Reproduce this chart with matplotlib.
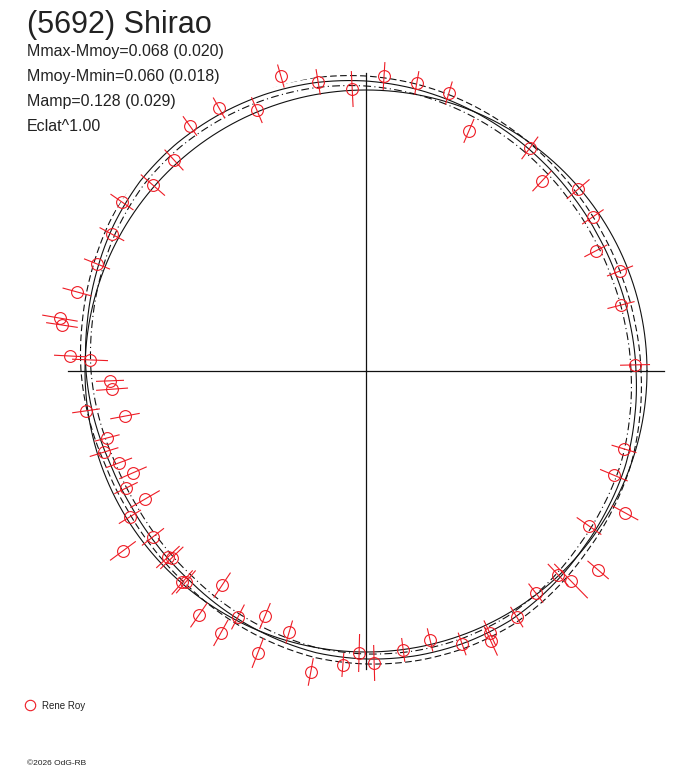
import numpy as np
import matplotlib
matplotlib.use("Agg")
import matplotlib.pyplot as plt

# observations: rotational phase (deg), plotted radius, radial error
phase_deg = [106.1, 99.4, 92.8, 86.5, 80.0, 73.4, 66.8, 112.7, 119.2, 125.7,
             132.3, 138.9, 145.3, 151.7, 158.3, 164.7, 170.2, 171.4, 177.1, 177.7,
             182.2, 184.1, 188.1, 190.6, 194.5, 197.2, 200.4, 203.6, 206.0, 210.1,
             211.7, 217.9, 216.5, 223.2, 223.9, 229.5, 229.0, 236.1, 235.6, 242.5,
             247.6, 241.0, 253.6, 249.0, 259.6, 265.5, 268.6, 271.6, 277.6, 283.4,
             289.4, 295.3, 294.8, 301.5, 307.4, 313.3, 314.3, 319.4, 325.2, 331.3,
             337.2, 343.2, 1.3, 14.5, 21.5, 27.6, 34.2, 40.6, 47.2, 53.7]
rad = [307.0, 293.0, 282.3, 295.5, 292.5, 290.1, 261.2, 282.8, 301.3, 301.7,
       285.3, 282.8, 296.8, 288.6, 289.5, 299.6, 310.6, 307.5, 296.4, 276.2,
       256.2, 254.6, 282.8, 245.2, 267.5, 274.2, 263.6, 254.3, 267.0, 255.4,
       277.5, 270.0, 302.4, 271.7, 269.5, 277.3, 280.2, 257.9, 295.7, 277.3,
       265.0, 299.4, 272.1, 302.0, 306.0, 294.9, 282.1, 292.1, 281.4, 276.5,
       289.4, 289.9, 297.5, 288.6, 279.6, 280.1, 293.5, 305.7, 271.6, 295.4,
       268.9, 269.5, 269.1, 263.4, 273.0, 259.4, 274.3, 279.4, 259.0, 276.8]
err = [12, 13, 18, 14, 12, 12, 13, 14, 12, 12,
       14, 16, 14, 14, 14, 15, 18, 16, 16, 18,
       14, 16, 14, 15, 13, 15, 14, 15, 13, 17,
       13, 14, 16, 16, 16, 15, 16, 15, 15, 14,
       14, 15, 12, 16, 14, 12, 19, 18, 12, 12,
       12, 14, 16, 12, 12, 15, 24, 14, 15, 15,
       15, 13, 15, 14, 14, 13, 13, 15, 14, 14]

# fitted curve sampled every 10 deg
fit_deg = list(range(0, 370, 10))
fit_rad = [270.0, 268.3, 267.8, 268.6, 270.7, 273.9, 277.8, 282.1, 286.3, 290.0,
           292.8, 294.5, 295.5, 296.0, 295.0, 291.5, 287.0, 283.0, 280.0, 276.0,
           272.0, 271.0, 272.0, 274.0, 278.0, 282.0, 286.1, 288.0, 289.1, 289.2,
           288.2, 284.5, 280.5, 278.0, 276.1, 272.7, 270.0]
fit_sigma = 5.0
mean_rad = 281.0
r_max = 298.0

stats = ["Mmax-Mmoy=0.068 (0.020)", "Mmoy-Mmin=0.060 (0.018)",
         "Mamp=0.128 (0.029)", "Eclat^1.00"]

W, H = 688, 768
fig = plt.figure(figsize=(W / 100, H / 100), dpi=100)
cx, cy = 366, 371
ax = fig.add_axes([(cx - r_max) / W, (H - cy - r_max) / H, 2 * r_max / W, 2 * r_max / H],
                  projection="polar")
ax.set_ylim(0, r_max)
ax.grid(False)
ax.set_xticks([])
ax.set_yticks([])
ax.spines["polar"].set_visible(False)
ax.patch.set_alpha(0)

red = "#ee1c25"
ink = "#111111"

# cross through the centre
for a in [0, 90, 180, 270]:
    ax.plot([np.deg2rad(a)] * 2, [0, r_max], color=ink, lw=0.9, clip_on=False)

tt = np.linspace(0, 2 * np.pi, 721)
ax.plot(tt, np.full_like(tt, mean_rad), color=ink, lw=0.8)

ft = np.deg2rad(fit_deg)
fr = np.array(fit_rad)
curves = []
curves += ax.plot(ft, fr, color=ink, lw=0.8)
curves += ax.plot(ft, fr + fit_sigma, color=ink, lw=0.8, ls=(0, (6, 3)))
curves += ax.plot(ft, fr - fit_sigma, color=ink, lw=0.8, ls=(0, (7, 3, 1, 3)))
# let the polar transform bend the segments between samples
for ln in curves:
    ln.get_path()._interpolation_steps = 20

ax.errorbar(np.deg2rad(phase_deg), rad, yerr=err, fmt="o", ms=8.5, mfc="none",
            mec=red, mew=0.8, ecolor=red, elinewidth=0.8, capsize=0, clip_on=False)

font = "Liberation Sans"
fig.text(27 / W, 1 - 33 / H, "(5692) Shirao", fontsize=22, family=font,
         color="#222222", va="baseline")
for i, s in enumerate(stats):
    fig.text(27 / W, 1 - (56 + 25 * i) / H, s, fontsize=11.5, family=font,
             color="#222222", va="baseline")

fig.lines.append(plt.Line2D([30 / W], [1 - 705 / H], marker="o", ms=7.5, mfc="none",
                            mec=red, mew=0.8, transform=fig.transFigure))
fig.text(42 / W, 1 - 709 / H, "Rene Roy", fontsize=7, family=font,
         color="#222222", va="baseline")
fig.text(27 / W, 1 - 765 / H, "\u00a92026 OdG-RB", fontsize=6, family=font,
         color="#222222", va="baseline")

fig.savefig("out.png", dpi=100)
